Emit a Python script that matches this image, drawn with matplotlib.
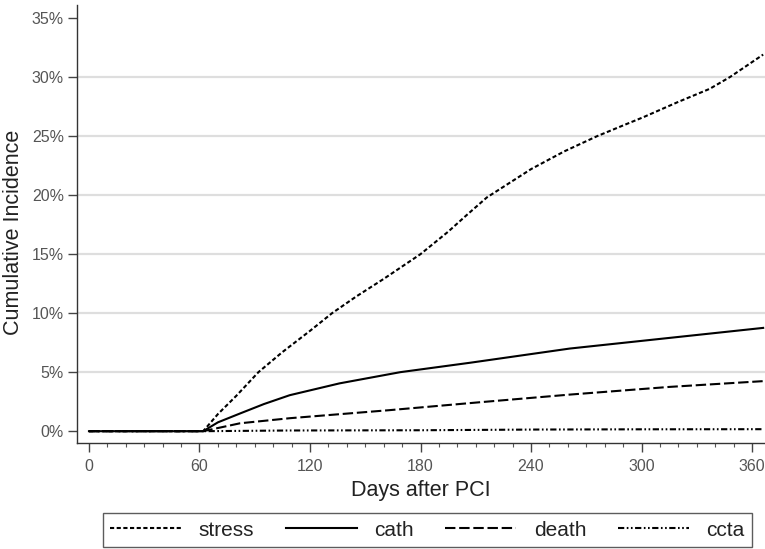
import numpy as np
import matplotlib
matplotlib.use("Agg")
import matplotlib.pyplot as plt
from matplotlib.ticker import FuncFormatter, MultipleLocator

plt.rcParams['font.family'] = ['Liberation Sans', 'DejaVu Sans']

# cumulative incidence (%), by day after PCI
stress_days = [0, 62, 70, 80, 92, 105, 120, 132, 145, 160, 180, 195, 205, 216, 228, 240,
               258, 276, 290, 301, 320, 337, 348, 366]
stress_pct = [0, 0, 1.45, 3.0, 5.0, 6.7, 8.5, 10.0, 11.4, 12.9, 15.0, 16.9, 18.3, 19.8, 21.0, 22.2,
              23.7, 25.0, 25.9, 26.6, 27.9, 29.0, 30.0, 31.9]

cath_days = [0, 62, 70, 82, 95, 109, 136, 169, 207, 261, 315, 366]
cath_pct = [0, 0, 0.75, 1.5, 2.3, 3.05, 4.05, 5.0, 5.8, 7.0, 7.9, 8.75]

death_days = [0, 62, 82, 109, 163, 212, 261, 315, 366]
death_pct = [0, 0, 0.67, 1.1, 1.78, 2.45, 3.1, 3.75, 4.24]

ccta_days = [0, 62, 109, 180, 243, 300, 366]
ccta_pct = [0, 0, 0.06, 0.08, 0.14, 0.16, 0.17]

x_ticks = [0, 60, 120, 180, 240, 300, 360]
y_ticks = [0, 5, 10, 15, 20, 25, 30, 35]

fig = plt.figure(figsize=(7.65, 5.49), dpi=100)
ax = fig.add_axes([77 / 765, 1 - 443 / 549, 1 - 77 / 765, (443 - 5) / 549])

# gridlines
for yv in y_ticks[1:-1]:
    ax.axhline(yv, color='#dedede', lw=1.6, zorder=0)

lw = 1.5
ax.plot(stress_days, stress_pct, color='black', lw=lw, linestyle=(0, (2.0, 1.2)), label='stress')
ax.plot(cath_days, cath_pct, color='black', lw=lw, linestyle='-', label='cath')
ax.plot(death_days, death_pct, color='black', lw=lw, linestyle=(0, (5, 1.8)), label='death')
ax.plot(ccta_days, ccta_pct, color='black', lw=lw,
        linestyle=(0, (3, 1.2, 0.8, 1.2, 0.8, 1.2)), label='ccta')

ax.set_xlim(-6.5, 367)
ax.set_ylim(-1.0, 36.1)
ax.set_xticks(x_ticks)
ax.xaxis.set_minor_locator(MultipleLocator(10))
ax.set_yticks(y_ticks)
ax.yaxis.set_major_formatter(FuncFormatter(lambda v, p: f"{int(v)}%"))

for s in ['top', 'right']:
    ax.spines[s].set_visible(False)
for s in ['left', 'bottom']:
    ax.spines[s].set_color('#333333')
    ax.spines[s].set_linewidth(1.0)

ax.tick_params(axis='both', which='major', length=6.5, width=1, color='#444444',
               labelcolor='#555555', labelsize=11.5)
ax.tick_params(axis='y', which='major', pad=3)
ax.tick_params(axis='x', which='major', pad=5)
ax.tick_params(axis='x', which='minor', length=3.2, width=0.8, color='#555555')

ax.set_xlabel("Days after PCI", fontsize=15.5, color='#222222', labelpad=4)
ax.set_ylabel("Cumulative Incidence", fontsize=15.5, color='#222222')
ax.yaxis.set_label_coords(-0.077, 0.482)

leg = fig.legend(loc='lower left', bbox_to_anchor=(103 / 765, 2 / 549, (752 - 103) / 765, 39 / 549),
                 mode='expand', ncol=4, frameon=True, fancybox=False, fontsize=15,
                 handlelength=3.4, handletextpad=0.85, borderpad=0.35, borderaxespad=0,
                 edgecolor='#333333')
leg.get_frame().set_linewidth(1.0)
for t in leg.get_texts():
    t.set_color('#222222')

fig.savefig("out.png", dpi=100)
